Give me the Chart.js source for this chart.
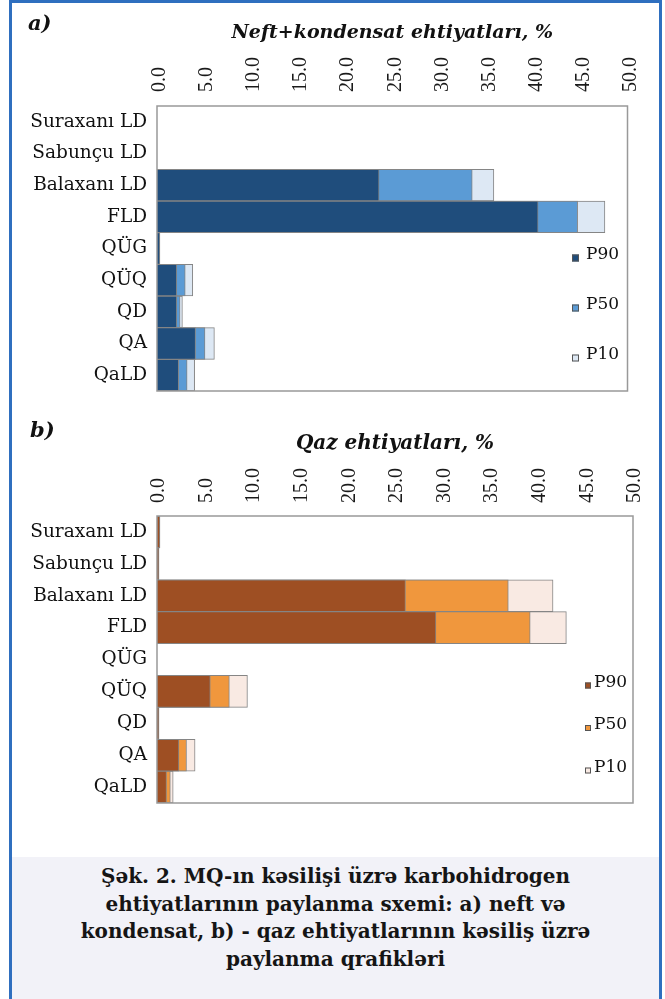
<!DOCTYPE html>
<html><head><meta charset="utf-8">
<script src="https://cdn.jsdelivr.net/npm/chart.js@4.4.1/dist/chart.umd.min.js"></script>
<style>
html,body{margin:0;padding:0;background:#fff;}
#page{position:relative;width:665px;height:999px;overflow:hidden;background:#fff;}
#frame{position:absolute;left:9px;top:0;width:653px;height:1030px;border:3px solid #2F6FBF;box-sizing:border-box;}
#capbg{position:absolute;left:12px;top:857px;width:647px;height:142px;background:#F2F2F8;}
.lbl{position:absolute;font-family:"DejaVu Serif";font-weight:bold;font-style:italic;font-size:21px;color:#111;}
#caption{position:absolute;left:12px;width:647px;top:863px;text-align:center;font-family:"DejaVu Serif";font-weight:bold;font-size:20px;line-height:27.7px;color:#151515;}
.wrap{position:absolute;left:0;width:665px;height:400px;}
canvas{display:block;}
</style></head>
<body><div id="page">
<div id="capbg"></div>
<div id="frame"></div>
<div class="wrap" style="top:0"><canvas id="ca" width="665" height="400"></canvas></div>
<div class="wrap" style="top:410px"><canvas id="cb" width="665" height="400"></canvas></div>
<div class="lbl" style="left:28px;top:10px">a)</div>
<div class="lbl" style="left:30px;top:417px">b)</div>
<div id="caption">Şək. 2. MQ-ın kəsilişi üzrə karbohidrogen<br>ehtiyatlarının paylanma sxemi: a) neft və<br>kondensat, b) - qaz ehtiyatlarının kəsiliş üzrə<br>paylanma qrafikləri</div>
</div>
<script>
// ---- data ----
const categories = ['Suraxanı LD','Sabunçu LD','Balaxanı LD','FLD','QÜG','QÜQ','QD','QA','QaLD'];
const seriesNames = ['P90','P50','P10'];
const tickValues = [0,5,10,15,20,25,30,35,40,45,50];
const oilTitle = 'Neft+kondensat ehtiyatları, %';
const gasTitle = 'Qaz ehtiyatları, %';
const oilP90 = [0, 0, 23.6, 40.5, 0.3, 2.1, 2.1, 4.1, 2.3];
const oilP50 = [0, 0, 33.5, 44.7, 0.3, 3.0, 2.45, 5.1, 3.2];
const oilP10 = [0, 0, 35.8, 47.6, 0.3, 3.8, 2.7, 6.1, 4.0];
const gasP90 = [0.3, 0.2, 26.1, 29.3, 0, 5.6, 0.2, 2.3, 1.0];
const gasP50 = [0.3, 0.2, 36.9, 39.2, 0, 7.6, 0.2, 3.1, 1.4];
const gasP10 = [0.3, 0.2, 41.6, 43.0, 0, 9.5, 0.2, 4.0, 1.7];

const oilColors = ['#1F4D7C', '#5B9BD5', '#DDE8F4'];
const gasColors = ['#9E4F23', '#F0973D', '#F9EAE3'];
const edge = '#858585';

const plotFrame = {
  id: 'plotFrame',
  afterDatasetsDraw(chart, args, o) {
    const {ctx, chartArea: a} = chart;
    ctx.save();
    ctx.strokeStyle = o.color; ctx.lineWidth = o.width;
    ctx.strokeRect(a.left, a.top, a.right - a.left, a.bottom - a.top);
    ctx.restore();
  }
};
const boxLegend = {
  id: 'boxLegend',
  afterDraw(chart, args, o) {
    const ctx = chart.ctx;
    ctx.save();
    ctx.font = o.size + 'px "DejaVu Serif"';
    ctx.textBaseline = 'middle';
    ctx.textAlign = 'left';
    chart.data.datasets.forEach((ds, i) => {
      const y = o.y0 + i * o.dy;
      ctx.fillStyle = ds.backgroundColor;
      ctx.fillRect(o.x, y - o.box / 2, o.box, o.box);
      ctx.strokeStyle = '#555'; ctx.lineWidth = 1;
      ctx.strokeRect(o.x + 0.5, y - o.box / 2 + 0.5, o.box - 1, o.box - 1);
      ctx.fillStyle = '#111';
      ctx.fillText(ds.label, o.x + o.box + o.gap, y + o.textDy);
    });
    ctx.restore();
  }
};

function makeDatasets(vals, colors) {
  return vals.map((v, i) => ({
    label: seriesNames[i], data: v, backgroundColor: colors[i],
    borderColor: edge, borderWidth: 1, borderSkipped: 'start',
    grouped: false, barPercentage: 1, categoryPercentage: 1
  }));
}

function makeChart(id, datasets, cfg) {
  return new Chart(document.getElementById(id), {
    type: 'bar',
    data: { labels: categories, datasets: datasets },
    options: {
      responsive: false, animation: false, indexAxis: 'y',
      layout: { padding: { left: 0, right: 665 - cfg.right, top: cfg.padTop, bottom: 400 - cfg.bottom } },
      plugins: {
        legend: { display: false }, tooltip: { enabled: false },
        plotFrame: { color: '#999', width: 1.5 },
        boxLegend: cfg.legend
      },
      scales: {
        x: {
          position: 'top', min: 0, max: 50,
          grid: { display: false, drawTicks: false }, border: { display: false },
          afterBuildTicks: s => { s.ticks = tickValues.map(v => ({ value: v })); },
          ticks: { minRotation: 90, maxRotation: 90, autoSkip: false, padding: cfg.tickPad,
                   labelOffset: cfg.labelOffset,
                   font: { family: 'Liberation Serif', size: 20 }, color: '#1a1a1a',
                   callback: v => Number(v).toFixed(1) },
          title: { display: true, text: cfg.title, color: '#111',
                   font: { family: 'DejaVu Serif', size: cfg.titleSize, weight: 'bold', style: 'italic' },
                   padding: { top: 12, bottom: 0 } },
          afterFit: s => { s.height = cfg.top - cfg.padTop; s.paddingLeft = 0; s.paddingRight = 0; }
        },
        y: {
          grid: { display: false, drawTicks: false }, border: { display: false },
          ticks: { padding: 10, font: { family: 'DejaVu Serif', size: 18.5 }, color: '#111' },
          afterFit: s => { s.width = 157; s.paddingTop = 0; s.paddingBottom = 0; }
        }
      }
    },
    plugins: [plotFrame, boxLegend]
  });
}

makeChart('ca', makeDatasets([oilP90, oilP50, oilP10], oilColors), {
  title: oilTitle, titleSize: 19, padTop: 10, top: 106, bottom: 391, right: 627.5, tickPad: 14, labelOffset: 27,
  legend: { x: 572, y0: 258, dy: 50, box: 7, gap: 7, size: 17, textDy: -3 }
});
makeChart('cb', makeDatasets([gasP90, gasP50, gasP10], gasColors), {
  title: gasTitle, titleSize: 20, padTop: 10, top: 106, bottom: 393, right: 633, tickPad: 13, labelOffset: 26,
  legend: { x: 585, y0: 275.5, dy: 42.5, box: 6, gap: 3, size: 17, textDy: -3 }
});
</script>
</body></html>
